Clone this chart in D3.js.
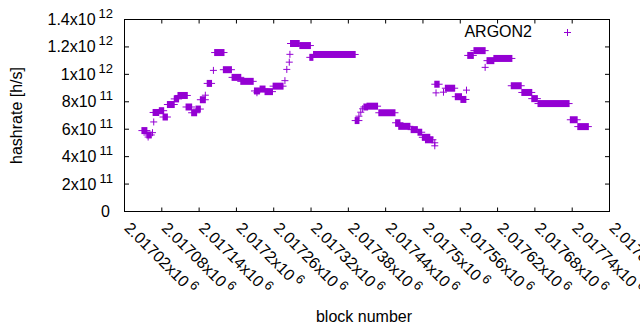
<html>
<script src='https://d3js.org/d3.v7.min.js'></script>
<style>
body { margin: 0; background: #fff; }
text { font-family: 'Liberation Sans', Arial, sans-serif; fill: #000; }
</style>
<body>
<svg width="640" height="330" class="chart"></svg>
<script>
// tick values and labels
var xTickValues = [2017020, 2017080, 2017140, 2017200, 2017260, 2017320, 2017380,
                   2017440, 2017500, 2017560, 2017620, 2017680, 2017740, 2017800];
var xTickMantissa = ["2.01702", "2.01708", "2.01714", "2.0172", "2.01726", "2.01732", "2.01738",
                     "2.01744", "2.0175", "2.01756", "2.01762", "2.01768", "2.01774", "2.0178"];
var xTickExp = "6";
var yTickValues = [0, 2e11, 4e11, 6e11, 8e11, 1e12, 1.2e12, 1.4e12];
var yTickMantissa = ["0", "2x10", "4x10", "6x10", "8x10", "1x10", "1.2x10", "1.4x10"];
var yTickExp = ["", "11", "11", "11", "11", "12", "12", "12"];

// ARGON2 hashrate, runs of blocks with the same value (start block, end block, h/s)
var runStart = [2017048, 2017056, 2017058, 2017065, 2017067, 2017066, 2017076, 2017082, 2017089, 2017100,
                2017106, 2017119, 2017128, 2017135, 2017142, 2017150, 2017153, 2017163, 2017165, 2017179,
                2017193, 2017207, 2017229, 2017233, 2017238, 2017246, 2017259, 2017278, 2017281, 2017285,
                2017286, 2017287, 2017302, 2017318, 2017324, 2017391, 2017397, 2017400, 2017403, 2017405,
                2017410, 2017429, 2017456, 2017461, 2017481, 2017492, 2017499, 2017504, 2017519, 2017519,
                2017519, 2017521, 2017533, 2017536, 2017552, 2017561, 2017570, 2017572, 2017582, 2017600,
                2017603, 2017614, 2017642, 2017659, 2017675, 2017685, 2017737, 2017749];
var runEnd   = [2017056, 2017063, 2017058, 2017065, 2017067, 2017075, 2017083, 2017089, 2017100, 2017107,
                2017121, 2017128, 2017136, 2017142, 2017150, 2017150, 2017160, 2017163, 2017180, 2017192,
                2017207, 2017227, 2017237, 2017233, 2017246, 2017258, 2017275, 2017278, 2017281, 2017285,
                2017286, 2017301, 2017319, 2017323, 2017391, 2017397, 2017397, 2017400, 2017403, 2017411,
                2017427, 2017455, 2017463, 2017479, 2017491, 2017498, 2017511, 2017516, 2017519, 2017519,
                2017526, 2017521, 2017533, 2017551, 2017562, 2017569, 2017570, 2017581, 2017600, 2017600,
                2017614, 2017643, 2017658, 2017675, 2017684, 2017735, 2017748, 2017766];
var runRate  = [5.90e11, 5.58e11, 5.43e11, 5.75e11, 6.53e11, 7.22e11, 7.35e11, 6.89e11, 7.80e11, 8.21e11,
                8.46e11, 7.62e11, 7.20e11, 7.47e11, 8.15e11, 8.48e11, 9.34e11, 10.29e11, 11.59e11, 10.34e11,
                9.78e11, 9.49e11, 8.79e11, 8.66e11, 8.93e11, 8.74e11, 9.14e11, 9.54e11, 10.36e11, 10.89e11,
                11.46e11, 12.25e11, 12.10e11, 11.24e11, 11.45e11, 6.63e11, 6.95e11, 7.24e11, 7.49e11, 7.62e11,
                7.68e11, 7.20e11, 6.47e11, 6.21e11, 5.97e11, 5.78e11, 5.41e11, 5.23e11, 5.01e11, 4.79e11,
                9.28e11, 8.65e11, 8.70e11, 8.99e11, 8.37e11, 8.17e11, 8.85e11, 11.38e11, 11.73e11, 10.51e11,
                11.00e11, 11.16e11, 9.17e11, 8.68e11, 8.23e11, 7.87e11, 6.69e11, 6.19e11];

var color = "#9400d3";
var svg = d3.select(".chart");

var x = d3.scaleLinear().domain([2017020, 2017800]).range([124.5, 609.5]);
var y = d3.scaleLinear().domain([0, 1.4e12]).range([211.5, 19.5]);

// border
svg.append("rect")
   .attr("x", x.range()[0]).attr("y", y.range()[1])
   .attr("width", x.range()[1] - x.range()[0])
   .attr("height", y.range()[0] - y.range()[1])
   .attr("fill", "none").attr("stroke", "#000").attr("stroke-width", 1);

// x ticks (bottom and mirrored on top), pointing inward
var xt = svg.append("g");
xTickValues.forEach(function(v) {
    xt.append("line").attr("x1", x(v)).attr("x2", x(v))
      .attr("y1", y(0)).attr("y2", y(0) - 4).attr("stroke", "#000");
    xt.append("line").attr("x1", x(v)).attr("x2", x(v))
      .attr("y1", y(1.4e12)).attr("y2", y(1.4e12) + 4).attr("stroke", "#000");
});

// y ticks (left and mirrored on right)
var yt = svg.append("g");
yTickValues.forEach(function(v) {
    yt.append("line").attr("x1", x.range()[0]).attr("x2", x.range()[0] + 4.5)
      .attr("y1", y(v)).attr("y2", y(v)).attr("stroke", "#000");
    yt.append("line").attr("x1", x.range()[1]).attr("x2", x.range()[1] - 4.5)
      .attr("y1", y(v)).attr("y2", y(v)).attr("stroke", "#000");
});

// y tick labels
yTickValues.forEach(function(v, i) {
    var t = svg.append("text")
        .attr("x", yTickExp[i] ? 113 : 110)
        .attr("y", y(v) + 5.5)
        .attr("text-anchor", "end")
        .attr("font-size", 16)
        .text(yTickMantissa[i]);
    if (yTickExp[i]) {
        t.append("tspan").attr("dx", 3).attr("dy", -7).attr("font-size", 13).text(yTickExp[i]);
    }
});

// x tick labels, rotated
xTickValues.forEach(function(v, i) {
    svg.append("text")
       .attr("transform", "translate(" + (x(v) - 1) + ",229) rotate(45)")
       .attr("font-size", 16)
       .text(xTickMantissa[i] + "x10")
       .append("tspan").attr("dx", 3).attr("dy", -6).attr("font-size", 13).text(xTickExp);
});

// axis titles
svg.append("text")
   .attr("transform", "translate(22," + ((y.range()[0] + y.range()[1]) / 2) + ") rotate(-90)")
   .attr("text-anchor", "middle").attr("font-size", 16)
   .text("hashrate [h/s]");
svg.append("text")
   .attr("x", 364).attr("y", 322)
   .attr("text-anchor", "middle").attr("font-size", 16)
   .text("block number");

// data: each run drawn as overlapping '+' markers
var pts = svg.append("g");
runStart.forEach(function(s, i) {
    var x0 = x(s), x1 = x(runEnd[i]), yy = y(runRate[i]);
    pts.append("rect")
       .attr("x", x0 - 0.5).attr("y", yy - 3.5)
       .attr("width", x1 - x0 + 1).attr("height", 7)
       .attr("fill", color);
    pts.append("line")
       .attr("x1", x0 - 3.5).attr("x2", x1 + 3.5)
       .attr("y1", yy).attr("y2", yy)
       .attr("stroke", color).attr("stroke-width", 1);
});

// legend
svg.append("text")
   .attr("x", 532).attr("y", 37.3)
   .attr("text-anchor", "end").attr("font-size", 16)
   .text("ARGON2");
var lg = svg.append("g").attr("stroke", color);
lg.append("line").attr("x1", 564).attr("x2", 571).attr("y1", 32.5).attr("y2", 32.5);
lg.append("line").attr("x1", 567.5).attr("x2", 567.5).attr("y1", 29).attr("y2", 36);
</script>
</body>
</html>
